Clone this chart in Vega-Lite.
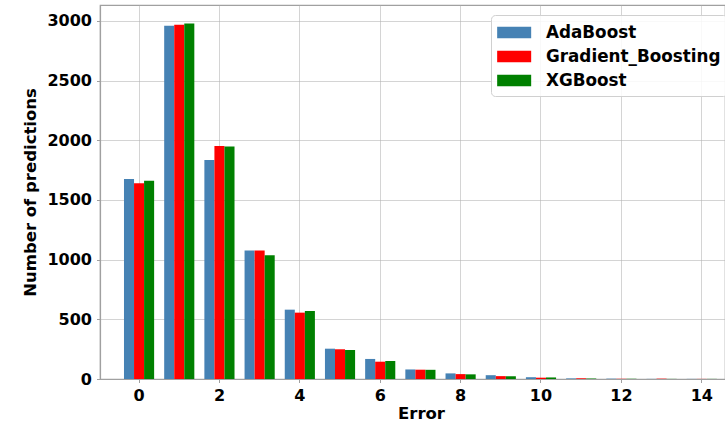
{
  "$schema": "https://vega.github.io/schema/vega-lite/v6.json",
  "width": 625,
  "height": 374,
  "autosize": {"type": "none"},
  "padding": {"left": 100, "top": 5, "right": 0, "bottom": 44},
  "background": "white",
  "config": {
    "font": "DejaVu Sans",
    "view": {"stroke": "#a0a0a0", "strokeWidth": 1.2},
    "axis": {
      "labelFont": "DejaVu Sans",
      "labelFontSize": 16,
      "labelFontWeight": "bold",
      "labelColor": "#000000",
      "titleFont": "DejaVu Sans",
      "titleFontSize": 16.5,
      "titleFontWeight": "bold",
      "titleColor": "#000000",
      "domainColor": "#a0a0a0",
      "domainWidth": 1.2,
      "tickColor": "#a0a0a0",
      "tickSize": 3.5,
      "gridColor": "#b0b0b0",
      "gridOpacity": 0.55,
      "gridWidth": 1,
      "zindex": 1
    }
  },
  "data": {
    "values": [
      {"error": 0, "model": "AdaBoost", "count": 1676},
      {"error": 0, "model": "Gradient_Boosting", "count": 1640},
      {"error": 0, "model": "XGBoost", "count": 1662},
      {"error": 1, "model": "AdaBoost", "count": 2960},
      {"error": 1, "model": "Gradient_Boosting", "count": 2968},
      {"error": 1, "model": "XGBoost", "count": 2980},
      {"error": 2, "model": "AdaBoost", "count": 1836},
      {"error": 2, "model": "Gradient_Boosting", "count": 1953},
      {"error": 2, "model": "XGBoost", "count": 1948},
      {"error": 3, "model": "AdaBoost", "count": 1076},
      {"error": 3, "model": "Gradient_Boosting", "count": 1076},
      {"error": 3, "model": "XGBoost", "count": 1037},
      {"error": 4, "model": "AdaBoost", "count": 581},
      {"error": 4, "model": "Gradient_Boosting", "count": 556},
      {"error": 4, "model": "XGBoost", "count": 570},
      {"error": 5, "model": "AdaBoost", "count": 254},
      {"error": 5, "model": "Gradient_Boosting", "count": 249},
      {"error": 5, "model": "XGBoost", "count": 243},
      {"error": 6, "model": "AdaBoost", "count": 168},
      {"error": 6, "model": "Gradient_Boosting", "count": 145},
      {"error": 6, "model": "XGBoost", "count": 151},
      {"error": 7, "model": "AdaBoost", "count": 80},
      {"error": 7, "model": "Gradient_Boosting", "count": 78},
      {"error": 7, "model": "XGBoost", "count": 77},
      {"error": 8, "model": "AdaBoost", "count": 47},
      {"error": 8, "model": "Gradient_Boosting", "count": 41},
      {"error": 8, "model": "XGBoost", "count": 39},
      {"error": 9, "model": "AdaBoost", "count": 32},
      {"error": 9, "model": "Gradient_Boosting", "count": 24},
      {"error": 9, "model": "XGBoost", "count": 23},
      {"error": 10, "model": "AdaBoost", "count": 15},
      {"error": 10, "model": "Gradient_Boosting", "count": 11},
      {"error": 10, "model": "XGBoost", "count": 13},
      {"error": 11, "model": "AdaBoost", "count": 5},
      {"error": 11, "model": "Gradient_Boosting", "count": 6},
      {"error": 11, "model": "XGBoost", "count": 4},
      {"error": 12, "model": "AdaBoost", "count": 3},
      {"error": 12, "model": "Gradient_Boosting", "count": 2},
      {"error": 12, "model": "XGBoost", "count": 2},
      {"error": 13, "model": "AdaBoost", "count": 1},
      {"error": 13, "model": "Gradient_Boosting", "count": 3},
      {"error": 13, "model": "XGBoost", "count": 1},
      {"error": 14, "model": "AdaBoost", "count": 1},
      {"error": 14, "model": "Gradient_Boosting", "count": 1},
      {"error": 14, "model": "XGBoost", "count": 1}
    ]
  },
  "mark": {"type": "bar"},
  "encoding": {
    "x": {
      "field": "error",
      "type": "ordinal",
      "scale": {"paddingInner": 0.25, "paddingOuter": 0.4, "align": 0.746, "round": false},
      "axis": {
        "values": [0, 2, 4, 6, 8, 10, 12, 14],
        "labelAngle": 0,
        "title": "Error",
        "grid": true,
        "bandPosition": 0.5,
        "labelPadding": 5,
        "titlePadding": 2,
        "titleX": 321
      }
    },
    "xOffset": {
      "field": "model",
      "type": "nominal",
      "scale": {"paddingInner": 0, "paddingOuter": 0}
    },
    "y": {
      "field": "count",
      "type": "quantitative",
      "scale": {"domain": [0, 3134], "nice": false},
      "axis": {
        "values": [0, 500, 1000, 1500, 2000, 2500, 3000],
        "format": "d",
        "title": "Number of predictions",
        "grid": true,
        "labelPadding": 5,
        "titlePadding": 8
      }
    },
    "color": {
      "field": "model",
      "type": "nominal",
      "scale": {
        "domain": ["AdaBoost", "Gradient_Boosting", "XGBoost"],
        "range": ["#4682b4", "#ff0000", "#008000"]
      },
      "legend": {
        "orient": "none",
        "legendX": 391,
        "legendY": 10,
        "title": null,
        "symbolType": "M-1,-0.5H2V0.5H-1Z",
        "symbolSize": 514,
        "symbolStrokeWidth": 0,
        "symbolOpacity": 1,
        "labelFont": "DejaVu Sans",
        "labelFontSize": 16.8,
        "labelFontWeight": "bold",
        "labelColor": "#000000",
        "labelOffset": 26,
        "labelLimit": 400,
        "rowPadding": 3,
        "padding": 6,
        "strokeColor": "#d0d0d0",
        "fillColor": "rgba(255,255,255,0.85)",
        "cornerRadius": 4
      }
    }
  }
}
